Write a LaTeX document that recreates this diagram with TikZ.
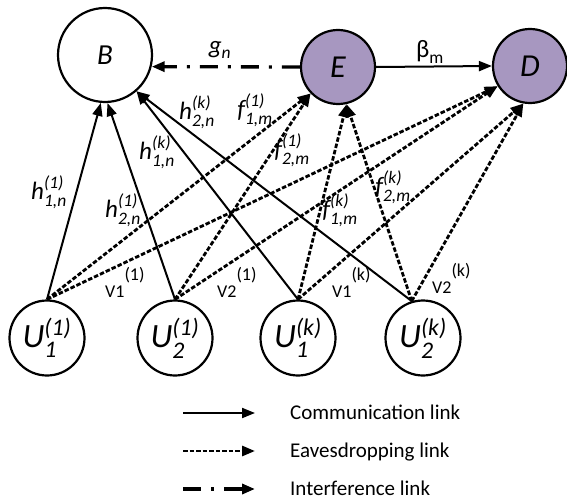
\documentclass[tikz,border=0pt]{standalone}
\usepackage{fontspec}
\usepackage{amsmath}
\setmainfont{Carlito}
\usetikzlibrary{arrows.meta}
\definecolor{EveFill}{HTML}{A797C0}
\tikzset{
  station/.style={
    draw, circle, line width=2.2pt, inner sep=0pt,
    font=\fontsize{32}{38}\selectfont\itshape,
  },
  bsnode/.style  ={station, minimum size=94pt, font=\fontsize{29}{34}\selectfont\itshape},
  evnode/.style  ={station, fill=EveFill, minimum size=74pt},
  usernode/.style={station, minimum size=75pt, font=\fontsize{34}{40}\selectfont},
  comm/.style={
    -{Triangle[length=13pt,width=10pt]}, line width=2pt,
  },
  eaves/.style={
    -{Triangle[length=13pt,width=10pt]}, line width=2.8pt,
    dash pattern=on 4.5pt off 2pt,
  },
  interf/.style={
    -{Triangle[length=13pt,width=10pt]}, line width=3.3pt,
    dash pattern=on 18pt off 10pt on 3pt off 10pt,
  },
  lbl/.style={font=\fontsize{25}{30}\selectfont, inner sep=0pt},
  vlbl/.style={font=\fontsize{18}{22}\selectfont, inner sep=0pt, anchor=base west},
  legtext/.style={font=\fontsize{21}{25}\selectfont, anchor=base west, inner sep=0pt},
}
\newcommand{\chn}[3]{$\textit{#1}^{\textit{(#2)}}_{\textit{#3}}$}
\newcommand{\vtag}[2]{#1\raisebox{17pt}{#2}}

\begin{document}
\begin{tikzpicture}[x=1pt, y=-1pt]
\useasboundingbox (0,0) rectangle (567,500);

% ── Nodes ─────────────────────────────────────────────────────────────────
\node[bsnode]   (B)   at (105, 55) {B};
\node[evnode]   (E)   at (338, 67) {E};
\node[evnode]   (D)   at (530, 66) {D};
\node[usernode] (U11) at ( 47,338) {\chn{U}{1}{1}};
\node[usernode] (U21) at (175,338) {\chn{U}{1}{2}};
\node[usernode] (U1K) at (298,338) {\chn{U}{k}{1}};
\node[usernode] (U2K) at (423,338) {\chn{U}{k}{2}};

% ── Communication links to B ─────────────────────────────────────────────
\draw[comm] (U11.north) -- (B.-95);
\draw[comm] (U21.north) -- (B.-87);
\draw[comm] (U1K.north) -- (B.-49);
\draw[comm] (U2K.107)   -- (B.-49);

% ── Eavesdropping links to E and D ───────────────────────────────────────
\draw[eaves] (U11.north) -- (E.-136);
\draw[eaves] (U21.north) -- (E.-136);
\draw[eaves] (U1K.north) -- (E.-77);
\draw[eaves] (U2K.107)   -- (E.-77);
\draw[eaves] (U11.north) -- (D.-148);
\draw[eaves] (U21.north) -- (D.-148);
\draw[eaves] (U1K.north) -- (D.-100);
\draw[eaves] (U2K.107)   -- (D.-100);

% E interferes with B, forwards to D
\draw[interf] (E.west) -- (B.-14);
\draw[comm]   (E.east) -- (D.west);

% ── Labels ───────────────────────────────────────────────────────────────
\node[lbl] (gn) at (220, 50) {$\textit{g}_{\textit{n}}$};
\node[lbl] (bm) at (430, 52) {$\text{β}_{\text{m}}$};

\node[lbl] (h11) at ( 49,192) {\chn{h}{1}{1,n}};
\node[lbl] (h21) at (123,210) {\chn{h}{1}{2,n}};
\node[lbl] (h1k) at (157,152) {\chn{h}{k}{1,n}};
\node[lbl] (h2k) at (197,112) {\chn{h}{k}{2,n}};
\node[lbl] (f11) at (255,110) {\chn{f}{1}{1,m}};
\node[lbl] (f21) at (292,150) {\chn{f}{1}{2,m}};
\node[lbl] (f1k) at (340,210) {\chn{f}{k}{1,m}};
\node[lbl] (f2k) at (393,187) {\chn{f}{k}{2,m}};

\node[vlbl] (v11) at (105,297) {\vtag{V1}{(1)}};
\node[vlbl] (v21) at (217,297) {\vtag{V2}{(1)}};
\node[vlbl] (v1k) at (332,297) {\vtag{V1}{(k)}};
\node[vlbl] (v2k) at (432,293) {\vtag{V2}{(k)}};

% ── Legend ───────────────────────────────────────────────────────────────
\coordinate (L1a) at (183,413); \coordinate (L1b) at (255,413);
\coordinate (L2a) at (183,451); \coordinate (L2b) at (255,451);
\coordinate (L3a) at (183,489); \coordinate (L3b) at (255,489);
\draw[comm]   (L1a) -- (L1b);
\draw[eaves]  (L2a) -- (L2b);
\draw[interf] (L3a) -- (L3b);
\node[legtext] (T1) at (290,419) {Communication link};
\node[legtext] (T2) at (290,457) {Eavesdropping link};
\node[legtext] (T3) at (290,495) {Interference link};

\end{tikzpicture}
\end{document}
